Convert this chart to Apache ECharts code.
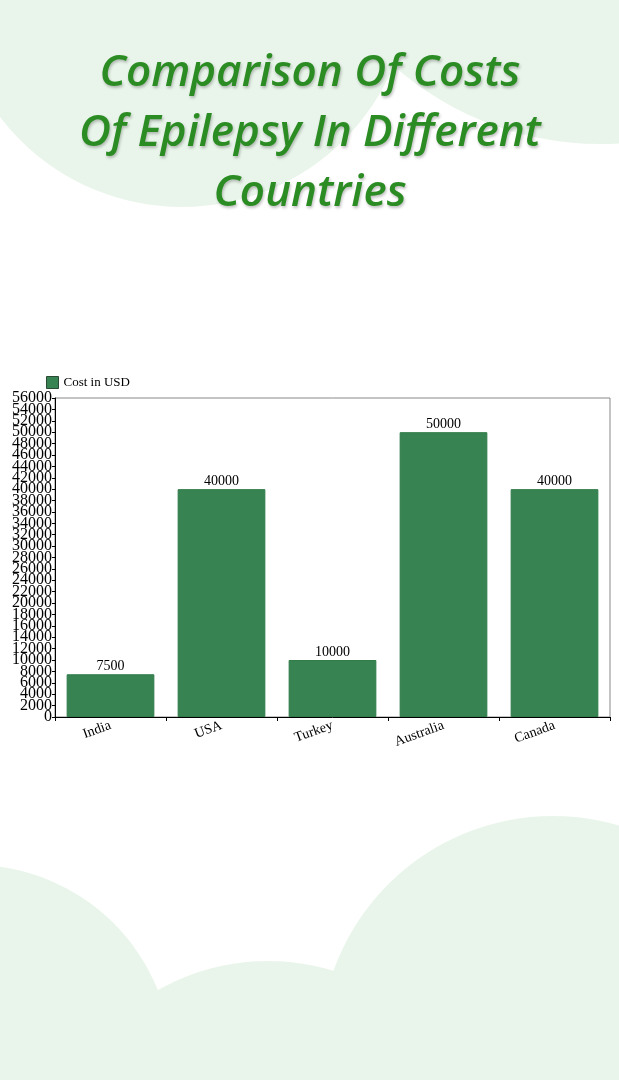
<!DOCTYPE html>
<html>
<head>
<meta charset="utf-8">
<script src="https://cdn.jsdelivr.net/npm/echarts@6/dist/echarts.min.js"></script>
<style>
html,body{margin:0;padding:0;background:#fff;}
#chart{width:619px;height:1080px;}
</style>
</head>
<body>
<div id="chart"></div>
<script>
const titleLines = ['Comparison Of Costs', 'Of Epilepsy In Different', 'Countries'];
const seriesName = 'Cost in USD';
const categories = ['India', 'USA', 'Turkey', 'Australia', 'Canada'];
const costs = [7500, 40000, 10000, 50000, 40000];
const yMin = 0, yMax = 56000, yStep = 2000;

const bgFill = '#e9f5ea';
const serif = '"Liberation Serif", "Times New Roman", serif';

const chart = echarts.init(document.getElementById('chart'), null, {renderer: 'canvas'});

const blobs = [
  {cx: 182, cy: -22, r: 229},
  {cx: 600, cy: -167, r: 311},
  {cx: -27, cy: 1064, r: 199},
  {cx: 268, cy: 1184, r: 223},
  {cx: 553, cy: 1049, r: 233}
];

const graphics = blobs.map(b => ({
  type: 'circle', z: -10, silent: true,
  shape: {cx: b.cx, cy: b.cy, r: b.r},
  style: {fill: bgFill}
}));
titleLines.forEach((t, i) => {
  graphics.push({
    type: 'text', z: 10, silent: true,
    x: 310, y: 73 + i * 60,
    style: {
      text: t, fill: '#2a8c22',
      font: 'italic 600 44px "Open Sans", sans-serif',
      textAlign: 'center', textVerticalAlign: 'middle',
      textShadowColor: 'rgba(0,0,0,0.25)', textShadowBlur: 3,
      textShadowOffsetX: 1, textShadowOffsetY: 2
    }
  });
});

// Two overlaid value axes with identical scales: one labels the even steps,
// the other the odd steps, so that no tick label is dropped for overlap.
function yAxisDef(parity, visibleLine) {
  return {
    type: 'value', min: yMin, max: yMax, interval: yStep, position: 'left', offset: 0,
    axisLine: {show: visibleLine, lineStyle: {color: '#000', width: 1}},
    axisTick: {show: visibleLine, length: 3, lineStyle: {color: '#000'}},
    axisLabel: {
      fontFamily: serif, fontSize: 16, color: '#000', margin: 3,
      showMinLabel: true, showMaxLabel: true, hideOverlap: false,
      formatter: v => (Math.round(v / yStep) % 2 === parity ? String(v) : '')
    },
    splitLine: {show: false}
  };
}

chart.setOption({
  backgroundColor: '#ffffff',
  animation: false,
  graphic: graphics,
  legend: {
    data: [seriesName],
    left: 41, top: 371,
    icon: 'rect', itemWidth: 12, itemHeight: 12, itemGap: 5,
    textStyle: {fontFamily: serif, fontSize: 13, color: '#000'},
    itemStyle: {borderColor: '#2b4a36', borderWidth: 1}
  },
  grid: {
    left: 55, right: 9, top: 398, bottom: 363,
    show: true, borderColor: '#888', borderWidth: 1, backgroundColor: 'transparent'
  },
  xAxis: {
    type: 'category', data: categories,
    axisLine: {show: true, lineStyle: {color: '#000', width: 1}},
    axisTick: {show: true, alignWithLabel: false, length: 4, lineStyle: {color: '#000'}},
    axisLabel: {rotate: 20, fontFamily: serif, fontSize: 14, color: '#000', margin: 8, interval: 0},
    splitLine: {show: false}
  },
  yAxis: [yAxisDef(0, true), yAxisDef(1, false)],
  series: [{
    name: seriesName, type: 'bar', data: costs, yAxisIndex: 0,
    barCategoryGap: '21%',
    itemStyle: {color: '#378452', borderColor: '#2f7a48', borderWidth: 1},
    label: {
      show: true, position: 'top', distance: 1,
      fontFamily: serif, fontSize: 14, color: '#000',
      backgroundColor: '#fff', padding: [1, 3, 0, 3]
    }
  }]
});
</script>
</body>
</html>
